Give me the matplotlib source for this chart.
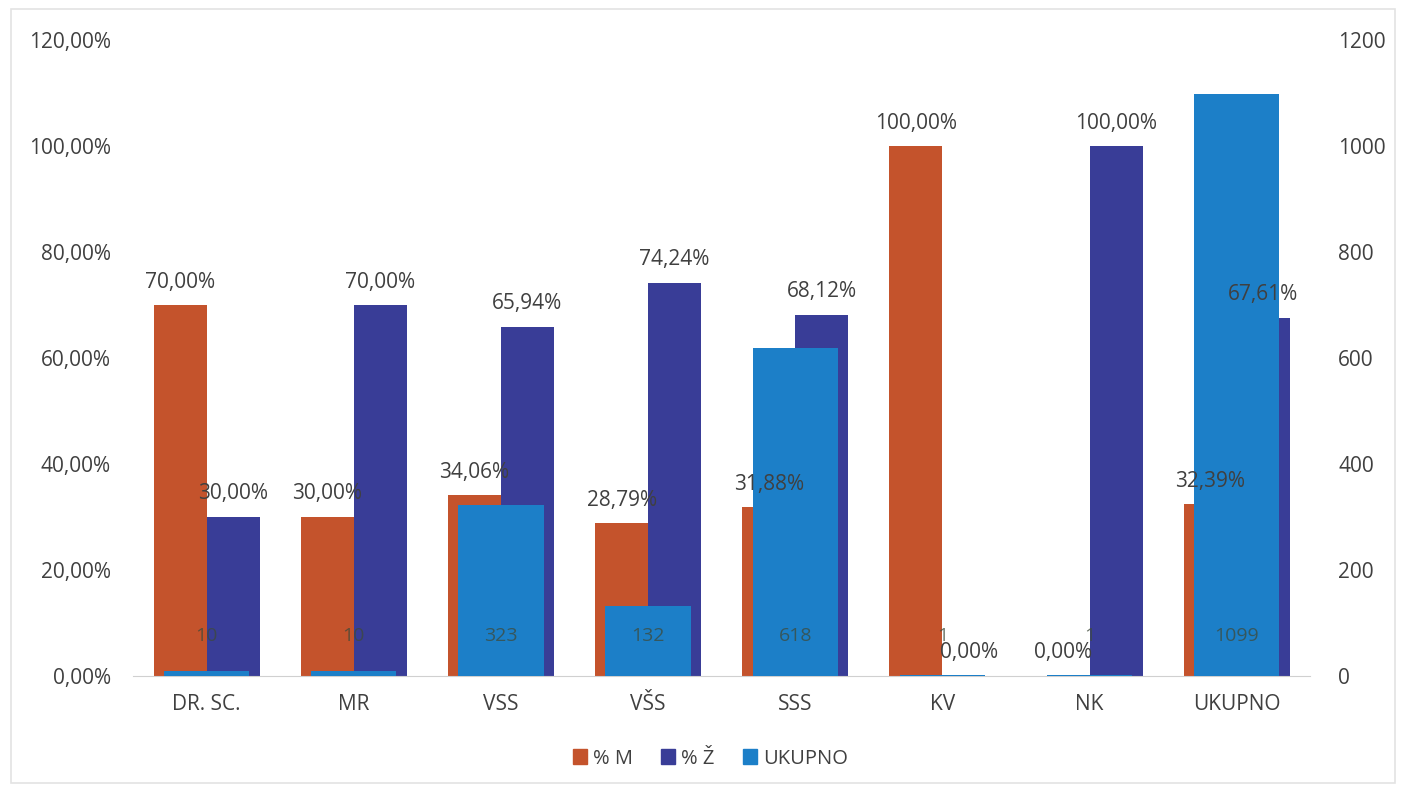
import numpy as np
import matplotlib
matplotlib.use('Agg')
import matplotlib.pyplot as plt
from matplotlib.patches import Rectangle, Patch

plt.rcParams['font.family'] = ['Open Sans', 'DejaVu Sans']

categories = ['DR. SC.', 'MR', 'VSS', 'VŠS', 'SSS', 'KV', 'NK', 'UKUPNO']
pct_m = [70.00, 30.00, 34.06, 28.79, 31.88, 100.00, 0.00, 32.39]
pct_z = [30.00, 70.00, 65.94, 74.24, 68.12, 0.00, 100.00, 67.61]
ukupno = [10, 10, 323, 132, 618, 1, 1, 1099]
left_ticks = [0, 20, 40, 60, 80, 100, 120]
right_ticks = [0, 200, 400, 600, 800, 1000, 1200]

c_m = '#C4532C'
c_z = '#393D97'
c_u = '#1C7FC8'
txt = '#404040'


def pct(v):
    return '{:.2f}%'.format(v).replace('.', ',')


fig = plt.figure(figsize=(14.06, 7.91), dpi=100)
fig.patches.append(Rectangle((0.008, 0.01), 0.984, 0.978, transform=fig.transFigure,
                             fill=False, edgecolor='#E3E3E3', linewidth=1.2))
ax = fig.add_axes([0.0946, 0.1454, 0.8374, 0.804])
ax2 = ax.twinx()

x = np.arange(len(categories))
w = 0.36
bm = ax.bar(x - w / 2, pct_m, w, color=c_m, linewidth=0, zorder=2)
bz = ax.bar(x + w / 2, pct_z, w, color=c_z, linewidth=0, zorder=2)
ax2.bar(x, ukupno, 0.58, color=c_u, linewidth=0, zorder=2)
# zero-height bars should not leave a hairline
for p in list(bm) + list(bz):
    if p.get_height() == 0:
        p.set_visible(False)

ax.set_xlim(-0.5, len(categories) - 0.5)
ax.set_ylim(0, 120)
ax2.set_ylim(0, 1200)
ax.set_yticks(left_ticks)
ax.set_yticklabels([pct(v) for v in left_ticks])
ax2.set_yticks(right_ticks)
ax2.set_yticklabels([str(v) for v in right_ticks])
ax.set_xticks(x)
ax.set_xticklabels(categories)

for a in (ax, ax2):
    for s in a.spines.values():
        s.set_visible(False)
    a.tick_params(length=0, labelsize=15, colors=txt)
ax.spines['bottom'].set_visible(True)
ax.spines['bottom'].set_color('#D0D0D0')
ax.tick_params(axis='y', pad=16)
ax.tick_params(axis='x', pad=13)
ax2.tick_params(axis='y', pad=20)

# data labels drawn on top of everything
for i in range(len(categories)):
    ax2.annotate(pct(pct_m[i]), (x[i] - w / 2, pct_m[i]), xycoords=ax.transData,
                 xytext=(0, 9), textcoords='offset points', ha='center', va='bottom',
                 fontsize=15, color=txt, zorder=5)
    ax2.annotate(pct(pct_z[i]), (x[i] + w / 2, pct_z[i]), xycoords=ax.transData,
                 xytext=(0, 9), textcoords='offset points', ha='center', va='bottom',
                 fontsize=15, color=txt, zorder=5)
    ax2.text(x[i], 75, str(ukupno[i]), ha='center', va='center', fontsize=14,
             color='#3E4A3A', alpha=0.75, zorder=5)

handles = [Patch(color=c_m), Patch(color=c_z), Patch(color=c_u)]
fig.legend(handles, ['% M', '% Ž', 'UKUPNO'], loc='center', bbox_to_anchor=(0.505, 0.041),
           ncol=3, frameon=False, fontsize=14.5, handlelength=0.7, handleheight=0.7,
           handletextpad=0.3, columnspacing=1.4, labelcolor=txt)

fig.savefig('out.png', dpi=100, facecolor='white')
